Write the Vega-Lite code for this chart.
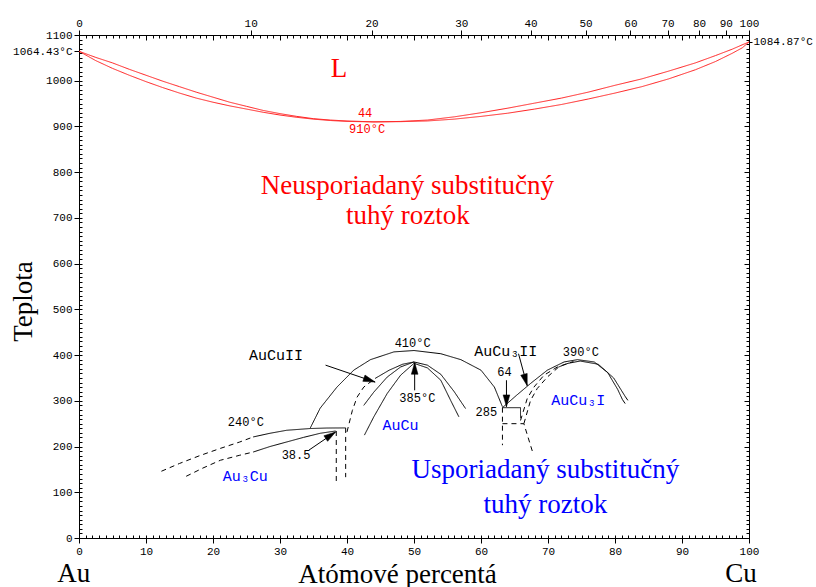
{
  "$schema": "https://vega.github.io/schema/vega-lite/v6.json",
  "width": 670,
  "height": 503,
  "autosize": "none",
  "padding": {"left": 79, "top": 35, "right": 67, "bottom": 49},
  "background": "white",
  "config": {
    "view": {"stroke": null},
    "axis": {"grid": false, "domainColor": "black", "tickColor": "black", "labelColor": "black", "labelFont": "Liberation Mono", "labelFontSize": 11, "titleFont": "Liberation Serif", "titleFontSize": 27, "titleFontWeight": "normal", "titleColor": "black", "labelOverlap": false, "labelBound": false, "labelFlush": false, "format": "d"}
  },
  "datasets": {
    "frame": [{"x": 0, "t": 0}],
    "lines": [
      {"s": "liq", "k": "red", "i": 0, "x": 0, "t": 1064.43},
      {"s": "liq", "k": "red", "i": 1, "x": 2.5, "t": 1051},
      {"s": "liq", "k": "red", "i": 2, "x": 5, "t": 1039},
      {"s": "liq", "k": "red", "i": 3, "x": 7.5, "t": 1025},
      {"s": "liq", "k": "red", "i": 4, "x": 10, "t": 1012},
      {"s": "liq", "k": "red", "i": 5, "x": 12.5, "t": 999},
      {"s": "liq", "k": "red", "i": 6, "x": 15, "t": 987},
      {"s": "liq", "k": "red", "i": 7, "x": 17.5, "t": 975},
      {"s": "liq", "k": "red", "i": 8, "x": 20, "t": 964},
      {"s": "liq", "k": "red", "i": 9, "x": 22.5, "t": 953},
      {"s": "liq", "k": "red", "i": 10, "x": 25, "t": 944},
      {"s": "liq", "k": "red", "i": 11, "x": 27.5, "t": 935},
      {"s": "liq", "k": "red", "i": 12, "x": 30, "t": 928},
      {"s": "liq", "k": "red", "i": 13, "x": 32.5, "t": 922},
      {"s": "liq", "k": "red", "i": 14, "x": 35, "t": 917},
      {"s": "liq", "k": "red", "i": 15, "x": 37.5, "t": 914},
      {"s": "liq", "k": "red", "i": 16, "x": 40, "t": 912},
      {"s": "liq", "k": "red", "i": 17, "x": 44, "t": 910},
      {"s": "liq", "k": "red", "i": 18, "x": 48, "t": 911},
      {"s": "liq", "k": "red", "i": 19, "x": 52, "t": 914},
      {"s": "liq", "k": "red", "i": 20, "x": 56, "t": 921},
      {"s": "liq", "k": "red", "i": 21, "x": 60, "t": 930},
      {"s": "liq", "k": "red", "i": 22, "x": 64, "t": 940},
      {"s": "liq", "k": "red", "i": 23, "x": 68, "t": 951},
      {"s": "liq", "k": "red", "i": 24, "x": 72, "t": 962},
      {"s": "liq", "k": "red", "i": 25, "x": 76, "t": 975},
      {"s": "liq", "k": "red", "i": 26, "x": 80, "t": 990},
      {"s": "liq", "k": "red", "i": 27, "x": 84, "t": 1004},
      {"s": "liq", "k": "red", "i": 28, "x": 88, "t": 1021},
      {"s": "liq", "k": "red", "i": 29, "x": 92, "t": 1039},
      {"s": "liq", "k": "red", "i": 30, "x": 95, "t": 1055},
      {"s": "liq", "k": "red", "i": 31, "x": 97.5, "t": 1069},
      {"s": "liq", "k": "red", "i": 32, "x": 100, "t": 1084.87},
      {"s": "sol", "k": "red", "i": 0, "x": 0, "t": 1064.43},
      {"s": "sol", "k": "red", "i": 1, "x": 2.5, "t": 1044},
      {"s": "sol", "k": "red", "i": 2, "x": 5, "t": 1027},
      {"s": "sol", "k": "red", "i": 3, "x": 7.5, "t": 1012},
      {"s": "sol", "k": "red", "i": 4, "x": 10, "t": 998},
      {"s": "sol", "k": "red", "i": 5, "x": 12.5, "t": 985},
      {"s": "sol", "k": "red", "i": 6, "x": 15, "t": 973},
      {"s": "sol", "k": "red", "i": 7, "x": 17.5, "t": 962},
      {"s": "sol", "k": "red", "i": 8, "x": 20, "t": 953},
      {"s": "sol", "k": "red", "i": 9, "x": 22.5, "t": 945},
      {"s": "sol", "k": "red", "i": 10, "x": 25, "t": 938},
      {"s": "sol", "k": "red", "i": 11, "x": 27.5, "t": 931},
      {"s": "sol", "k": "red", "i": 12, "x": 30, "t": 925},
      {"s": "sol", "k": "red", "i": 13, "x": 32.5, "t": 920},
      {"s": "sol", "k": "red", "i": 14, "x": 35, "t": 916},
      {"s": "sol", "k": "red", "i": 15, "x": 37.5, "t": 913},
      {"s": "sol", "k": "red", "i": 16, "x": 40, "t": 911},
      {"s": "sol", "k": "red", "i": 17, "x": 44, "t": 910},
      {"s": "sol", "k": "red", "i": 18, "x": 48, "t": 910.5},
      {"s": "sol", "k": "red", "i": 19, "x": 52, "t": 912},
      {"s": "sol", "k": "red", "i": 20, "x": 56, "t": 916},
      {"s": "sol", "k": "red", "i": 21, "x": 60, "t": 922},
      {"s": "sol", "k": "red", "i": 22, "x": 64, "t": 929},
      {"s": "sol", "k": "red", "i": 23, "x": 68, "t": 938},
      {"s": "sol", "k": "red", "i": 24, "x": 72, "t": 948},
      {"s": "sol", "k": "red", "i": 25, "x": 76, "t": 960},
      {"s": "sol", "k": "red", "i": 26, "x": 80, "t": 973},
      {"s": "sol", "k": "red", "i": 27, "x": 84, "t": 987},
      {"s": "sol", "k": "red", "i": 28, "x": 88, "t": 1004},
      {"s": "sol", "k": "red", "i": 29, "x": 92, "t": 1024},
      {"s": "sol", "k": "red", "i": 30, "x": 95, "t": 1042},
      {"s": "sol", "k": "red", "i": 31, "x": 97.5, "t": 1060},
      {"s": "sol", "k": "red", "i": 32, "x": 99, "t": 1072},
      {"s": "sol", "k": "red", "i": 33, "x": 100, "t": 1084.87},

      {"s": "a3u_d", "k": "dash", "i": 0, "x": 12.3, "t": 146},
      {"s": "a3u_d", "k": "dash", "i": 1, "x": 15, "t": 163},
      {"s": "a3u_d", "k": "dash", "i": 2, "x": 18, "t": 180},
      {"s": "a3u_d", "k": "dash", "i": 3, "x": 21.1, "t": 196},
      {"s": "a3u_d", "k": "dash", "i": 4, "x": 24, "t": 210},
      {"s": "a3u_d", "k": "dash", "i": 5, "x": 26, "t": 221},
      {"s": "a3u", "k": "solid", "i": 0, "x": 26, "t": 221},
      {"s": "a3u", "k": "solid", "i": 1, "x": 28.5, "t": 229},
      {"s": "a3u", "k": "solid", "i": 2, "x": 31, "t": 235.6},
      {"s": "a3u", "k": "solid", "i": 3, "x": 34.5, "t": 239.4},
      {"s": "a3u", "k": "solid", "i": 4, "x": 37, "t": 240.5},
      {"s": "a3u", "k": "solid", "i": 5, "x": 39.8, "t": 240.7},
      {"s": "a3l_d", "k": "dash", "i": 0, "x": 16, "t": 135},
      {"s": "a3l_d", "k": "dash", "i": 1, "x": 18.5, "t": 153},
      {"s": "a3l_d", "k": "dash", "i": 2, "x": 21.1, "t": 170},
      {"s": "a3l_d", "k": "dash", "i": 3, "x": 24, "t": 181},
      {"s": "a3l_d", "k": "dash", "i": 4, "x": 26, "t": 188},
      {"s": "a3l", "k": "solid", "i": 0, "x": 26, "t": 188},
      {"s": "a3l", "k": "solid", "i": 1, "x": 28.5, "t": 200},
      {"s": "a3l", "k": "solid", "i": 2, "x": 31, "t": 210},
      {"s": "a3l", "k": "solid", "i": 3, "x": 33.5, "t": 220},
      {"s": "a3l", "k": "solid", "i": 4, "x": 36, "t": 229},
      {"s": "a3l", "k": "solid", "i": 5, "x": 38.3, "t": 234},
      {"s": "v1", "k": "dash", "i": 0, "x": 38.4, "t": 234},
      {"s": "v1", "k": "dash", "i": 1, "x": 38.4, "t": 119},
      {"s": "v2", "k": "dash", "i": 0, "x": 39.8, "t": 240.7},
      {"s": "v2", "k": "dash", "i": 1, "x": 39.8, "t": 133},
      {"s": "outer", "k": "solid", "i": 0, "x": 34.5, "t": 240},
      {"s": "outer", "k": "solid", "i": 1, "x": 36, "t": 284},
      {"s": "outer", "k": "solid", "i": 2, "x": 38.5, "t": 330},
      {"s": "outer", "k": "solid", "i": 3, "x": 41, "t": 367},
      {"s": "outer", "k": "solid", "i": 4, "x": 43.5, "t": 390},
      {"s": "outer", "k": "solid", "i": 5, "x": 47, "t": 407},
      {"s": "outer", "k": "solid", "i": 6, "x": 50, "t": 410},
      {"s": "outer", "k": "solid", "i": 7, "x": 54, "t": 403},
      {"s": "outer", "k": "solid", "i": 8, "x": 57, "t": 390},
      {"s": "outer", "k": "solid", "i": 9, "x": 60, "t": 367},
      {"s": "outer", "k": "solid", "i": 10, "x": 62, "t": 330},
      {"s": "outer", "k": "solid", "i": 11, "x": 63.2, "t": 287},
      {"s": "inl_d", "k": "dash", "i": 0, "x": 40, "t": 232},
      {"s": "inl_d", "k": "dash", "i": 1, "x": 40.8, "t": 279},
      {"s": "inl_d", "k": "dash", "i": 2, "x": 41.5, "t": 308},
      {"s": "inl_d", "k": "dash", "i": 3, "x": 42.5, "t": 330},
      {"s": "inl_d", "k": "dash", "i": 4, "x": 44.2, "t": 349},
      {"s": "inl_s", "k": "solid", "i": 0, "x": 44.2, "t": 349},
      {"s": "inl_s", "k": "solid", "i": 1, "x": 46.3, "t": 367},
      {"s": "inl_s", "k": "solid", "i": 2, "x": 48.3, "t": 380},
      {"s": "inl_s", "k": "solid", "i": 3, "x": 50, "t": 385},
      {"s": "cu1", "k": "solid", "i": 0, "x": 42.5, "t": 290},
      {"s": "cu1", "k": "solid", "i": 1, "x": 44, "t": 319},
      {"s": "cu1", "k": "solid", "i": 2, "x": 46, "t": 352},
      {"s": "cu1", "k": "solid", "i": 3, "x": 48, "t": 374},
      {"s": "cu1", "k": "solid", "i": 4, "x": 50, "t": 385},
      {"s": "cu1", "k": "solid", "i": 5, "x": 52, "t": 378},
      {"s": "cu1", "k": "solid", "i": 6, "x": 54, "t": 358},
      {"s": "cu1", "k": "solid", "i": 7, "x": 56, "t": 320},
      {"s": "cu1", "k": "solid", "i": 8, "x": 57.7, "t": 283},
      {"s": "cu2", "k": "solid", "i": 0, "x": 42.6, "t": 225},
      {"s": "cu2", "k": "solid", "i": 1, "x": 44, "t": 265},
      {"s": "cu2", "k": "solid", "i": 2, "x": 46, "t": 316},
      {"s": "cu2", "k": "solid", "i": 3, "x": 48, "t": 356},
      {"s": "cu2", "k": "solid", "i": 4, "x": 50, "t": 382},
      {"s": "cu2", "k": "solid", "i": 5, "x": 52, "t": 372},
      {"s": "cu2", "k": "solid", "i": 6, "x": 54, "t": 345},
      {"s": "cu2", "k": "solid", "i": 7, "x": 55.5, "t": 300},
      {"s": "cu2", "k": "solid", "i": 8, "x": 56.7, "t": 265},
      {"s": "boxt", "k": "solid", "i": 0, "x": 63.2, "t": 285},
      {"s": "boxt", "k": "solid", "i": 1, "x": 65.9, "t": 285},
      {"s": "boxt", "k": "solid", "i": 2, "x": 65.9, "t": 262},
      {"s": "boxl", "k": "dash", "i": 0, "x": 63.2, "t": 285},
      {"s": "boxl", "k": "dash", "i": 1, "x": 63.2, "t": 203},
      {"s": "boxb", "k": "dash", "i": 0, "x": 63.2, "t": 250},
      {"s": "boxb", "k": "dash", "i": 1, "x": 66.4, "t": 250},
      {"s": "boxb", "k": "dash", "i": 2, "x": 67.7, "t": 188},
      {"s": "c3o", "k": "solid", "i": 0, "x": 63.2, "t": 285},
      {"s": "c3o", "k": "solid", "i": 1, "x": 65.3, "t": 312},
      {"s": "c3o", "k": "solid", "i": 2, "x": 67.4, "t": 338},
      {"s": "c3o", "k": "solid", "i": 3, "x": 69.9, "t": 367},
      {"s": "c3o", "k": "solid", "i": 4, "x": 72.4, "t": 385},
      {"s": "c3o", "k": "solid", "i": 5, "x": 74.4, "t": 390},
      {"s": "c3o", "k": "solid", "i": 6, "x": 76.9, "t": 385},
      {"s": "c3o", "k": "solid", "i": 7, "x": 78.9, "t": 362},
      {"s": "c3o", "k": "solid", "i": 8, "x": 80.4, "t": 325},
      {"s": "c3o", "k": "solid", "i": 9, "x": 81.1, "t": 303},
      {"s": "c3i", "k": "solid", "i": 0, "x": 71.6, "t": 374},
      {"s": "c3i", "k": "solid", "i": 1, "x": 73, "t": 382},
      {"s": "c3i", "k": "solid", "i": 2, "x": 74.8, "t": 387},
      {"s": "c3i", "k": "solid", "i": 3, "x": 77.5, "t": 380},
      {"s": "c3i", "k": "solid", "i": 4, "x": 79.8, "t": 350},
      {"s": "c3i", "k": "solid", "i": 5, "x": 81.5, "t": 310},
      {"s": "c3d1", "k": "dash", "i": 0, "x": 65.9, "t": 257},
      {"s": "c3d1", "k": "dash", "i": 1, "x": 66.9, "t": 305},
      {"s": "c3d1", "k": "dash", "i": 2, "x": 67.9, "t": 330},
      {"s": "c3d1", "k": "dash", "i": 3, "x": 69.4, "t": 356},
      {"s": "c3d1", "k": "dash", "i": 4, "x": 71.4, "t": 374},
      {"s": "c3d1", "k": "dash", "i": 5, "x": 73.8, "t": 386},
      {"s": "c3d2", "k": "dash", "i": 0, "x": 66.4, "t": 250},
      {"s": "c3d2", "k": "dash", "i": 1, "x": 67.4, "t": 301},
      {"s": "c3d2", "k": "dash", "i": 2, "x": 68.4, "t": 327},
      {"s": "c3d2", "k": "dash", "i": 3, "x": 69.9, "t": 352},
      {"s": "c3d2", "k": "dash", "i": 4, "x": 71.6, "t": 374},
      {"s": "c3d3", "k": "dash", "i": 0, "x": 81.1, "t": 303},
      {"s": "c3d3", "k": "dash", "i": 1, "x": 81.7, "t": 290},
      {"s": "c3d4", "k": "dash", "i": 0, "x": 81.5, "t": 310},
      {"s": "c3d4", "k": "dash", "i": 1, "x": 82.2, "t": 295}
    ],
    "arrows": [
      {"x1": 36.8, "y1": 378, "x2": 44.2, "y2": 341, "a": 109},
      {"x1": 34.3, "y1": 192, "x2": 38.3, "y2": 232, "a": 56},
      {"x1": 50.1, "y1": 323, "x2": 50.1, "y2": 384, "a": 0},
      {"x1": 63.8, "y1": 345, "x2": 63.8, "y2": 287, "a": 180},
      {"x1": 65.6, "y1": 403, "x2": 66.9, "y2": 333, "a": 164}
    ],
    "texts": [
      {"g": "bigred", "x": 38.8, "t": 1025, "label": "L"},
      {"g": "smallred", "x": 42.7, "t": 929, "label": "44"},
      {"g": "smallred", "x": 43.0, "t": 894, "label": "910°C"},
      {"g": "bigred", "x": 49.0, "t": 770, "label": "Neusporiadaný substitučný"},
      {"g": "bigred", "x": 49.1, "t": 704, "label": "tuhý roztok"},
      {"g": "bigblue", "x": 69.6, "t": 148, "label": "Usporiadaný substitučný"},
      {"g": "bigblue", "x": 69.6, "t": 72, "label": "tuhý roztok"},
      {"g": "blue", "x": 48.0, "t": 248, "label": "AuCu"},
      {"g": "blue", "x": 24.8, "t": 135, "label": "Au₃Cu"},
      {"g": "blue", "x": 74.5, "t": 301, "label": "AuCu₃I"},
      {"g": "name", "x": 29.4, "t": 400, "label": "AuCuII"},
      {"g": "name", "x": 63.7, "t": 408, "label": "AuCu₃II"},
      {"g": "small", "x": 24.9, "t": 254, "label": "240°C"},
      {"g": "small", "x": 32.4, "t": 181, "label": "38.5"},
      {"g": "small", "x": 49.8, "t": 426, "label": "410°C"},
      {"g": "small", "x": 50.5, "t": 306, "label": "385°C"},
      {"g": "small", "x": 63.5, "t": 363, "label": "64"},
      {"g": "small", "x": 60.8, "t": 275, "label": "285"},
      {"g": "small", "x": 74.9, "t": 406, "label": "390°C"},
      {"g": "corner", "x": -0.8, "t": -97, "label": "Au"},
      {"g": "corner", "x": 98.8, "t": -97, "label": "Cu"}
    ]
  },
  "resolve": {"axis": {"x": "independent", "y": "independent"}},
  "layer": [
    {
      "data": {"name": "frame"},
      "mark": {"type": "point", "opacity": 0},
      "encoding": {
        "x": {"field": "x", "type": "quantitative", "scale": {"domain": [0, 100], "nice": false, "zero": false},
          "axis": {"orient": "bottom", "values": [0,10,20,30,40,50,60,70,80,90,100], "tickSize": 5, "labelPadding": 2, "title": "Atómové percentá", "titleX": 318, "titleY": 44, "titleBaseline": "alphabetic", "titleAlign": "center"}},
        "y": {"field": "t", "type": "quantitative", "scale": {"domain": [0, 1100], "nice": false, "zero": false},
          "axis": {"orient": "left", "values": [0,100,200,300,400,500,600,700,800,900,1000,1064.43,1100], "labelExpr": "datum.value == 1064.43 ? '1064.43°C' : datum.label", "tickSize": 5, "labelPadding": 2, "title": "Teplota", "titleX": -48, "titleY": 266, "titleBaseline": "alphabetic", "titleAlign": "center", "titleAngle": -90}}
      }
    },
    {
      "data": {"name": "frame"},
      "mark": {"type": "point", "opacity": 0},
      "encoding": {
        "x": {"field": "x", "type": "quantitative",
          "axis": {"orient": "bottom", "values": [0,1,2,3,4,5,6,7,8,9,10,11,12,13,14,15,16,17,18,19,20,21,22,23,24,25,26,27,28,29,30,31,32,33,34,35,36,37,38,39,40,41,42,43,44,45,46,47,48,49,50,51,52,53,54,55,56,57,58,59,60,61,62,63,64,65,66,67,68,69,70,71,72,73,74,75,76,77,78,79,80,81,82,83,84,85,86,87,88,89,90,91,92,93,94,95,96,97,98,99,100], "tickSize": -3, "labels": false, "domain": false, "title": null}},
        "y": {"field": "t", "type": "quantitative",
          "axis": {"orient": "left", "values": [0,10,20,30,40,50,60,70,80,90,100,110,120,130,140,150,160,170,180,190,200,210,220,230,240,250,260,270,280,290,300,310,320,330,340,350,360,370,380,390,400,410,420,430,440,450,460,470,480,490,500,510,520,530,540,550,560,570,580,590,600,610,620,630,640,650,660,670,680,690,700,710,720,730,740,750,760,770,780,790,800,810,820,830,840,850,860,870,880,890,900,910,920,930,940,950,960,970,980,990,1000,1010,1020,1030,1040,1050,1060,1070,1080,1090,1100], "tickSize": -3, "labels": false, "domain": false, "title": null}}
      }
    },
    {
      "data": {"name": "frame"},
      "mark": {"type": "point", "opacity": 0},
      "encoding": {
        "x": {"field": "x", "type": "quantitative",
          "axis": {"orient": "top", "values": [0, 25.617, 43.659, 57.052, 67.389, 75.607, 82.299, 87.853, 92.536, 96.539, 100], "labelExpr": "format(round(100*datum.value*63.546/(datum.value*63.546+(100-datum.value)*196.967)), 'd')", "tickSize": 5, "labelPadding": 2, "title": null}},
        "y": {"field": "t", "type": "quantitative",
          "axis": {"orient": "right", "values": [1084.87], "labelExpr": "'1084.87°C'", "tickSize": 3, "labelPadding": 1, "title": null}}
      }
    },
    {
      "data": {"name": "frame"},
      "mark": {"type": "point", "opacity": 0},
      "encoding": {
        "x": {"field": "x", "type": "quantitative",
          "axis": {"orient": "top", "values": [0,1,2,3,4,5,6,7,8,9,10,11,12,13,14,15,16,17,18,19,20,21,22,23,24,25,26,27,28,29,30,31,32,33,34,35,36,37,38,39,40,41,42,43,44,45,46,47,48,49,50,51,52,53,54,55,56,57,58,59,60,61,62,63,64,65,66,67,68,69,70,71,72,73,74,75,76,77,78,79,80,81,82,83,84,85,86,87,88,89,90,91,92,93,94,95,96,97,98,99,100], "tickSize": -3, "labels": false, "domain": false, "title": null}},
        "y": {"field": "t", "type": "quantitative",
          "axis": {"orient": "right", "values": [0,10,20,30,40,50,60,70,80,90,100,110,120,130,140,150,160,170,180,190,200,210,220,230,240,250,260,270,280,290,300,310,320,330,340,350,360,370,380,390,400,410,420,430,440,450,460,470,480,490,500,510,520,530,540,550,560,570,580,590,600,610,620,630,640,650,660,670,680,690,700,710,720,730,740,750,760,770,780,790,800,810,820,830,840,850,860,870,880,890,900,910,920,930,940,950,960,970,980,990,1000,1010,1020,1030,1040,1050,1060,1070,1080,1090,1100], "tickSize": -3, "labels": false, "domain": false, "title": null}}
      }
    },
    {
      "data": {"name": "frame"},
      "mark": {"type": "point", "opacity": 0},
      "encoding": {
        "x": {"field": "x", "type": "quantitative",
          "axis": {"orient": "top", "values": [10,20,30,40,50,60,70,80,90], "tickSize": -5, "labels": false, "domain": false, "title": null}},
        "y": {"field": "t", "type": "quantitative",
          "axis": {"orient": "right", "values": [100,200,300,400,500,600,700,800,900,1000], "tickSize": -5, "labels": false, "domain": false, "title": null}}
      }
    },
    {
      "data": {"name": "lines"},
      "mark": {"type": "line", "strokeWidth": 1, "clip": true},
      "encoding": {
        "x": {"field": "x", "type": "quantitative", "axis": null},
        "y": {"field": "t", "type": "quantitative", "axis": null},
        "detail": {"field": "s", "type": "nominal"},
        "order": {"field": "i", "type": "quantitative"},
        "color": {"field": "k", "type": "nominal", "scale": {"domain": ["red", "solid", "dash"], "range": ["#ff2020", "black", "black"]}, "legend": null},
        "strokeDash": {"field": "k", "type": "nominal", "scale": {"domain": ["red", "solid", "dash"], "range": [[1, 0], [1, 0], [5, 4]]}, "legend": null}
      }
    },
    {
      "data": {"name": "arrows"},
      "mark": {"type": "rule", "strokeWidth": 1, "color": "black"},
      "encoding": {
        "x": {"field": "x1", "type": "quantitative", "axis": null},
        "y": {"field": "y1", "type": "quantitative", "axis": null},
        "x2": {"field": "x2"},
        "y2": {"field": "y2"}
      }
    },
    {
      "data": {"name": "arrows"},
      "mark": {"type": "point", "shape": "M0,0L0.45,1.6L-0.45,1.6Z", "filled": true, "fill": "black", "stroke": "black", "strokeWidth": 0.5, "opacity": 1, "size": 220},
      "encoding": {
        "x": {"field": "x2", "type": "quantitative", "axis": null},
        "y": {"field": "y2", "type": "quantitative", "axis": null},
        "angle": {"field": "a", "type": "quantitative", "scale": null}
      }
    },
    {
      "data": {"name": "texts"},
      "transform": [{"filter": "datum.g == 'bigred'"}],
      "mark": {"type": "text", "font": "Liberation Serif", "fontSize": 27, "color": "#ff0000", "align": "center", "baseline": "middle"},
      "encoding": {"x": {"field": "x", "type": "quantitative", "axis": null}, "y": {"field": "t", "type": "quantitative", "axis": null}, "text": {"field": "label"}}
    },
    {
      "data": {"name": "texts"},
      "transform": [{"filter": "datum.g == 'bigblue'"}],
      "mark": {"type": "text", "font": "Liberation Serif", "fontSize": 27, "color": "#0000ff", "align": "center", "baseline": "middle"},
      "encoding": {"x": {"field": "x", "type": "quantitative", "axis": null}, "y": {"field": "t", "type": "quantitative", "axis": null}, "text": {"field": "label"}}
    },
    {
      "data": {"name": "texts"},
      "transform": [{"filter": "datum.g == 'smallred'"}],
      "mark": {"type": "text", "font": "Liberation Mono", "fontSize": 12, "color": "#ff0000", "align": "center", "baseline": "middle"},
      "encoding": {"x": {"field": "x", "type": "quantitative", "axis": null}, "y": {"field": "t", "type": "quantitative", "axis": null}, "text": {"field": "label"}}
    },
    {
      "data": {"name": "texts"},
      "transform": [{"filter": "datum.g == 'blue'"}],
      "mark": {"type": "text", "font": "Liberation Mono", "fontSize": 15, "color": "#0000ff", "align": "center", "baseline": "middle"},
      "encoding": {"x": {"field": "x", "type": "quantitative", "axis": null}, "y": {"field": "t", "type": "quantitative", "axis": null}, "text": {"field": "label"}}
    },
    {
      "data": {"name": "texts"},
      "transform": [{"filter": "datum.g == 'name'"}],
      "mark": {"type": "text", "font": "Liberation Mono", "fontSize": 15, "color": "black", "align": "center", "baseline": "middle"},
      "encoding": {"x": {"field": "x", "type": "quantitative", "axis": null}, "y": {"field": "t", "type": "quantitative", "axis": null}, "text": {"field": "label"}}
    },
    {
      "data": {"name": "texts"},
      "transform": [{"filter": "datum.g == 'small'"}],
      "mark": {"type": "text", "font": "Liberation Mono", "fontSize": 12, "color": "black", "align": "center", "baseline": "middle"},
      "encoding": {"x": {"field": "x", "type": "quantitative", "axis": null}, "y": {"field": "t", "type": "quantitative", "axis": null}, "text": {"field": "label"}}
    },
    {
      "data": {"name": "texts"},
      "transform": [{"filter": "datum.g == 'corner'"}],
      "mark": {"type": "text", "font": "Liberation Serif", "fontSize": 27, "color": "black", "align": "center", "baseline": "alphabetic"},
      "encoding": {"x": {"field": "x", "type": "quantitative", "axis": null}, "y": {"field": "t", "type": "quantitative", "axis": null}, "text": {"field": "label"}}
    }
  ]
}
